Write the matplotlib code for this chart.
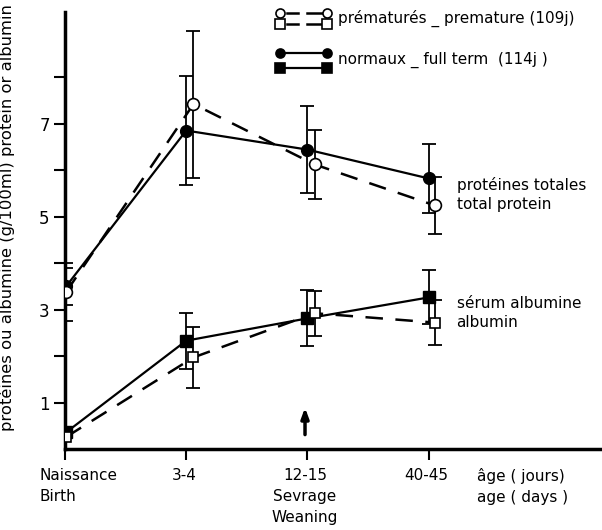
import numpy as np
import matplotlib
matplotlib.use("Agg")
import matplotlib.pyplot as plt

# ---------------------------------------------------------------------------
# Data (g/100 ml)
# ---------------------------------------------------------------------------
ages = [0, 1, 2, 3]   # Naissance, 3-4, 12-15, 40-45 (categorical positions)

tp_full      = [3.50, 6.85, 6.44, 5.82]
tp_full_err  = [0.40, 1.18, 0.93, 0.75]
tp_prem      = [3.38, 7.42, 6.12, 5.24]
tp_prem_err  = [0.62, 1.58, 0.75, 0.62]

alb_full     = [0.36, 2.33, 2.81, 3.26]
alb_full_err = [0.00, 0.60, 0.60, 0.58]
alb_prem     = [0.26, 1.97, 2.92, 2.72]
alb_prem_err = [0.00, 0.66, 0.48, 0.48]

x_labels = ["Naissance\nBirth", "3-4", "12-15\nSevrage\nWeaning", "40-45"]
y_ticks = [1, 2, 3, 4, 5, 6, 7, 8]
y_labels = ["1", "", "3", "", "5", "", "7", ""]

plt.rcParams["font.family"] = ["DejaVu Sans"]
FS = 11
PREM_SHIFT = [0.01, 0.06, 0.06, 0.05]

fig = plt.figure(figsize=(6.02, 5.30), dpi=100)
ax = fig.add_axes([65 / 602, 81 / 530, 537 / 602, 437 / 530])

x = np.array(ages, dtype=float)
xp = x + np.array(PREM_SHIFT)
xf = x + np.array([0.01, 0, 0, 0])

ebkw = dict(ecolor="black", elinewidth=1.3, capsize=5, capthick=1.3, zorder=2)

# total protein
ax.errorbar(xf, tp_full, yerr=tp_full_err, fmt="none", **ebkw)
ax.errorbar(xp, tp_prem, yerr=tp_prem_err, fmt="none", **ebkw)
ax.plot(xf, tp_full, "-", color="black", lw=1.6, marker="o", ms=8.5,
        mfc="black", mec="black", zorder=3)
ax.plot(xp, tp_prem, "--", color="black", lw=1.8, dashes=(7, 5), marker="o",
        ms=8.5, mfc="white", mec="black", mew=1.2, zorder=4)

# albumin
ax.errorbar(xf[1:], alb_full[1:], yerr=alb_full_err[1:], fmt="none", **ebkw)
ax.errorbar(xp[1:], alb_prem[1:], yerr=alb_prem_err[1:], fmt="none", **ebkw)
ax.plot(xf, alb_full, "-", color="black", lw=1.6, marker="s", ms=8,
        mfc="black", mec="black", zorder=3)
ax.plot(xp, alb_prem, "--", color="black", lw=1.8, dashes=(7, 5), marker="s",
        ms=7.5, mfc="white", mec="black", mew=1.2, zorder=4)

# weaning arrow
ax.annotate("", xy=(1.98, 0.95), xytext=(1.98, 0.25),
            arrowprops=dict(arrowstyle="-|>,head_width=0.22,head_length=0.6",
                            color="black", lw=2.5))

ax.set_xlim(0, 4.43)
ax.set_ylim(0, 9.4)
ax.set_xticks(ages)
ax.set_xticklabels([""] * 4)
ax.set_yticks(y_ticks)
ax.set_yticklabels(y_labels, fontsize=FS + 1)
ax.tick_params(axis="both", direction="out", length=8, width=1.5, pad=3)
for s in ["top", "right"]:
    ax.spines[s].set_visible(False)
for s in ["left", "bottom"]:
    ax.spines[s].set_linewidth(2.5)

# x tick labels
for xi, lab in zip(ages, x_labels):
    ha = "left" if xi == 0 else "center"
    off = -0.21 if xi == 0 else -0.02
    ax.text(xi + off, -0.4, lab, ha=ha, va="top", fontsize=FS,
            linespacing=1.5, clip_on=False)
ax.text(3.40, -0.4, "âge ( jours)\nage ( days )", ha="left", va="top",
        fontsize=FS, linespacing=1.5, clip_on=False)

ax.set_ylabel("protéines ou albumine (g/100ml) protein or albumin",
              fontsize=11.8)
ax.yaxis.set_label_coords(-0.093, 0.529)

# curve labels
ax.text(3.23, 5.48, "protéines totales\ntotal protein", ha="left",
        va="center", fontsize=FS, linespacing=1.35)
ax.text(3.23, 2.93, "sérum albumine\nalbumin", ha="left", va="center",
        fontsize=FS, linespacing=1.35)

# legend drawn by hand in axes coordinates: marker - line - marker
ml, mr = 0.400, 0.488
rows = [(0.998, "o", "white", True), (0.973, "s", "white", True),
        (0.906, "o", "black", False), (0.872, "s", "black", False)]
for yy, mk, fc, dashed in rows:
    if dashed:
        for a, b in [(0.413, 0.434), (0.451, 0.478)]:
            ax.plot([a, b], [yy, yy], "-", color="black", lw=1.8,
                    transform=ax.transAxes, clip_on=False)
    else:
        ax.plot([ml, mr], [yy, yy], "-", color="black", lw=1.6,
                transform=ax.transAxes, clip_on=False)
    ax.plot([ml, mr], [yy, yy], ls="none", marker=mk, ms=6.5, mfc=fc,
            mec="black", mew=1.2, transform=ax.transAxes, clip_on=False)
ax.text(0.508, 0.986, "prématurés _ premature (109j)", transform=ax.transAxes,
        ha="left", va="center", fontsize=FS)
ax.text(0.508, 0.890, "normaux _ full term  (114j )", transform=ax.transAxes,
        ha="left", va="center", fontsize=FS)

fig.savefig("out.png", dpi=100)
